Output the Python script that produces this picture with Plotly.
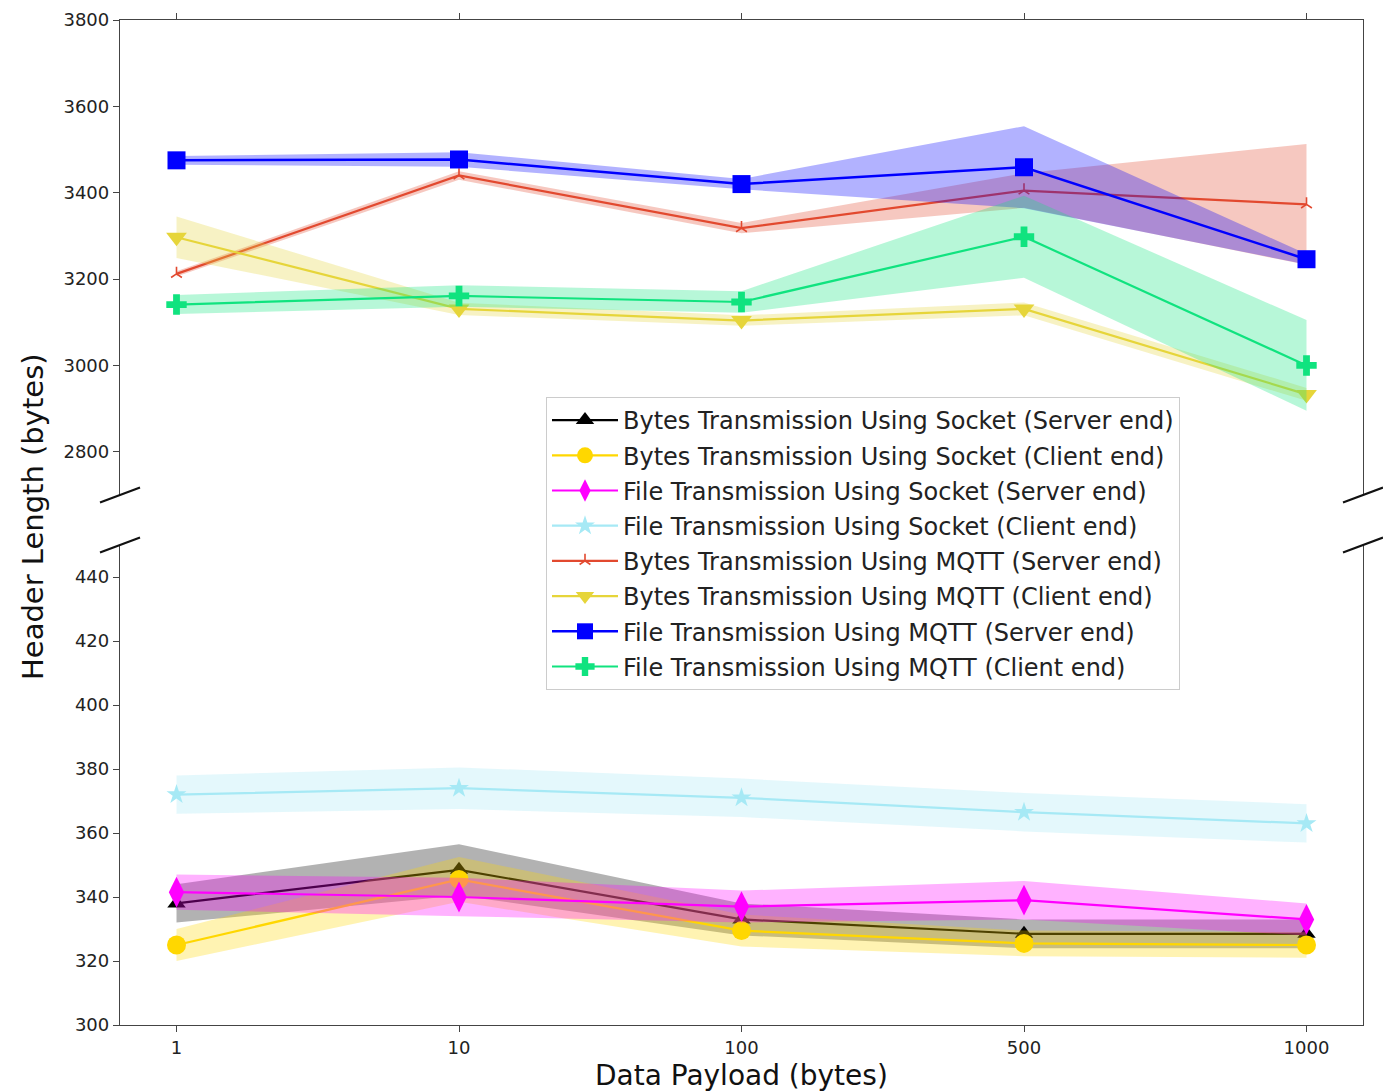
import plotly.graph_objects as go

# ---------------- data ----------------
categories = ["1", "10", "100", "500", "1000"]

series_names = [
    "Bytes Transmission Using Socket (Server end)",
    "Bytes Transmission Using Socket (Client end)",
    "File Transmission Using Socket (Server end)",
    "File Transmission Using Socket (Client end)",
    "Bytes Transmission Using MQTT (Server end)",
    "Bytes Transmission Using MQTT (Client end)",
    "File Transmission Using MQTT (Server end)",
    "File Transmission Using MQTT (Client end)",
]

# lower panel (socket)
bytes_socket_server = [338, 348.5, 333, 328.5, 328.5]
bytes_socket_server_err = [6, 8, 5, 4.5, 4.5]
bytes_socket_client = [325, 345.5, 329.5, 325.5, 325]
bytes_socket_client_err = [5, 7, 5, 4, 4]
file_socket_server = [341.5, 340, 337, 339, 333]
file_socket_server_err = [5.5, 6, 5, 6, 5]
file_socket_client = [372, 374, 371, 366.5, 363]
file_socket_client_err = [6, 6.5, 6, 6, 6]

# upper panel (MQTT)
bytes_mqtt_server = [3212, 3440, 3318, 3405, 3373]
bytes_mqtt_server_err = [6, 10, 12, 40, 140]
bytes_mqtt_client = [3297, 3131, 3104, 3131, 2933]
bytes_mqtt_client_err = [48, 14, 12, 15, 15]
file_mqtt_server = [3475, 3477, 3420, 3459, 3246]
file_mqtt_server_err = [10, 17, 12, 95, 12]
file_mqtt_client = [3141, 3161, 3147, 3298, 3000]
file_mqtt_client_err = [22, 25, 25, 95, 105]

upper_ticks = [2800, 3000, 3200, 3400, 3600, 3800]
lower_ticks = [300, 320, 340, 360, 380, 400, 420, 440]

# ---------------- styling ----------------
styles = [
    # (values, err, panel, color, fill rgba, symbol, size, line width)
    (bytes_socket_server, bytes_socket_server_err, "low", "#000000", "rgba(0,0,0,0.3)", "triangle-up", 16, 2.2),
    (bytes_socket_client, bytes_socket_client_err, "low", "#FFD700", "rgba(255,215,0,0.3)", "circle", 19, 2.2),
    (file_socket_server, file_socket_server_err, "low", "#FF00FF", "rgba(255,0,255,0.3)", "diamond-tall", 22, 2.2),
    (file_socket_client, file_socket_client_err, "low", "#A6E9F5", "rgba(166,233,245,0.3)", "star", 15, 2.2),
    (bytes_mqtt_server, bytes_mqtt_server_err, "up", "#E2492F", "rgba(226,73,47,0.3)", "y-up", 9, 2.2),
    (bytes_mqtt_client, bytes_mqtt_client_err, "up", "#E6D53A", "rgba(230,213,58,0.3)", "triangle-down", 18, 2.2),
    (file_mqtt_server, file_mqtt_server_err, "up", "#0000FF", "rgba(0,0,255,0.3)", "square", 18, 2.5),
    (file_mqtt_client, file_mqtt_client_err, "up", "#10E37F", "rgba(16,227,127,0.3)", "cross", 17, 2.2),
]

fig = go.Figure()

for i, (vals, err, panel, color, fill, symbol, size, lw) in enumerate(styles):
    yax = "y" if panel == "low" else "y2"
    xax = "x" if panel == "low" else "x2"
    upper = [v + e for v, e in zip(vals, err)]
    lower = [v - e for v, e in zip(vals, err)]
    fig.add_trace(go.Scatter(
        x=categories + categories[::-1],
        y=upper + lower[::-1],
        fill="toself", fillcolor=fill, line=dict(width=0),
        mode="lines", hoverinfo="skip", showlegend=False,
        xaxis=xax, yaxis=yax,
    ))
    marker = dict(symbol=symbol, size=size, color=color, line=dict(width=0))
    if symbol == "y-up":
        marker = dict(symbol=symbol, size=size, color=color,
                      line=dict(width=1.6, color=color))
    fig.add_trace(go.Scatter(
        x=categories, y=vals, mode="lines+markers", name=series_names[i],
        line=dict(color=color, width=lw), marker=marker,
        xaxis=xax, yaxis=yax, legendgroup=f"g{i}",
    ))

# page offset of the figure div (body margin) is compensated here
OFF = 8
W, H = 1391 - OFF, 1092 - OFF
# desired plot area in page pixels: x 120..1363, y 20..1025
TOP_PX, BOT_PX, LEFT_PX, RIGHT_PX = 20, 1025, 120, 1363
L, R = LEFT_PX - OFF, 1391 - RIGHT_PX
T, B = TOP_PX - OFF, 1092 - BOT_PX
plot_w = RIGHT_PX - LEFT_PX
plot_h = BOT_PX - TOP_PX
up_dom = [(BOT_PX - 495) / plot_h, 1.0]
low_dom = [0.0, (BOT_PX - 545) / plot_h]


def px_x(px):
    return (px - LEFT_PX) / plot_w


def px_y(py):
    return (BOT_PX - py) / plot_h


axis_font = dict(family="DejaVu Sans", size=18, color="#222222")
line_col = "#444444"

fig.update_layout(
    width=W, height=H,
    margin=dict(l=L, r=R, t=T, b=B, pad=0, autoexpand=False),
    paper_bgcolor="white", plot_bgcolor="white",
    font=dict(family="DejaVu Sans", color="#222222"),
    showlegend=True,
    legend=dict(
        x=px_x(546), y=px_y(397),
        xanchor="left", yanchor="top",
        bgcolor="rgba(255,255,255,0.85)", bordercolor="#cccccc", borderwidth=1,
        font=dict(family="DejaVu Sans", size=24, color="#222222"),
        tracegroupgap=1, traceorder="grouped", itemwidth=66,
    ),
    xaxis=dict(
        type="category", range=[-0.2, 4.2], anchor="y", automargin=False,
        showline=True, linecolor=line_col, linewidth=1.3, mirror=False,
        ticks="outside", ticklen=6, tickcolor=line_col, tickfont=axis_font,
        showgrid=False, zeroline=False,
    ),
    xaxis2=dict(
        type="category", range=[-0.2, 4.2], anchor="y2", side="top",
        matches="x", automargin=False,
        showline=True, linecolor=line_col, linewidth=1.3,
        ticks="outside", ticklen=6, tickcolor=line_col, showticklabels=False,
        showgrid=False, zeroline=False,
    ),
    yaxis=dict(
        domain=low_dom, range=[300, 450], tickvals=lower_ticks, automargin=False,
        showline=True, linecolor=line_col, linewidth=1.3, mirror=True,
        ticks="outside", ticklen=6, tickcolor=line_col, tickfont=axis_font,
        showgrid=False, zeroline=False, ticklabeloverflow="allow",
    ),
    yaxis2=dict(
        domain=up_dom, range=[2700, 3800], tickvals=upper_ticks, automargin=False,
        showline=True, linecolor=line_col, linewidth=1.3, mirror=True,
        ticks="outside", ticklen=6, tickcolor=line_col, tickfont=axis_font,
        showgrid=False, zeroline=False, ticklabeloverflow="allow",
    ),
    annotations=[
        dict(text="Header Length (bytes)", xref="paper", yref="paper",
             x=px_x(33), y=px_y(517),
             textangle=-90, showarrow=False, xanchor="center", yanchor="middle",
             font=dict(family="DejaVu Sans", size=29, color="#111111")),
        dict(text="Data Payload (bytes)", xref="paper", yref="paper",
             x=px_x(741), y=px_y(1075),
             showarrow=False, xanchor="center", yanchor="middle",
             font=dict(family="DejaVu Sans", size=28, color="#111111")),
    ],
)

# break marks
dx, dy = 0.0161, 0.0074
shapes = []
for xc in (0.0, 1.0):
    for yc in (up_dom[0], low_dom[1]):
        shapes.append(dict(type="line", xref="paper", yref="paper",
                           x0=xc - dx, y0=yc - dy, x1=xc + dx, y1=yc + dy,
                           line=dict(color="#111111", width=2.2)))
fig.update_layout(shapes=shapes)

fig.write_html("out.html")
